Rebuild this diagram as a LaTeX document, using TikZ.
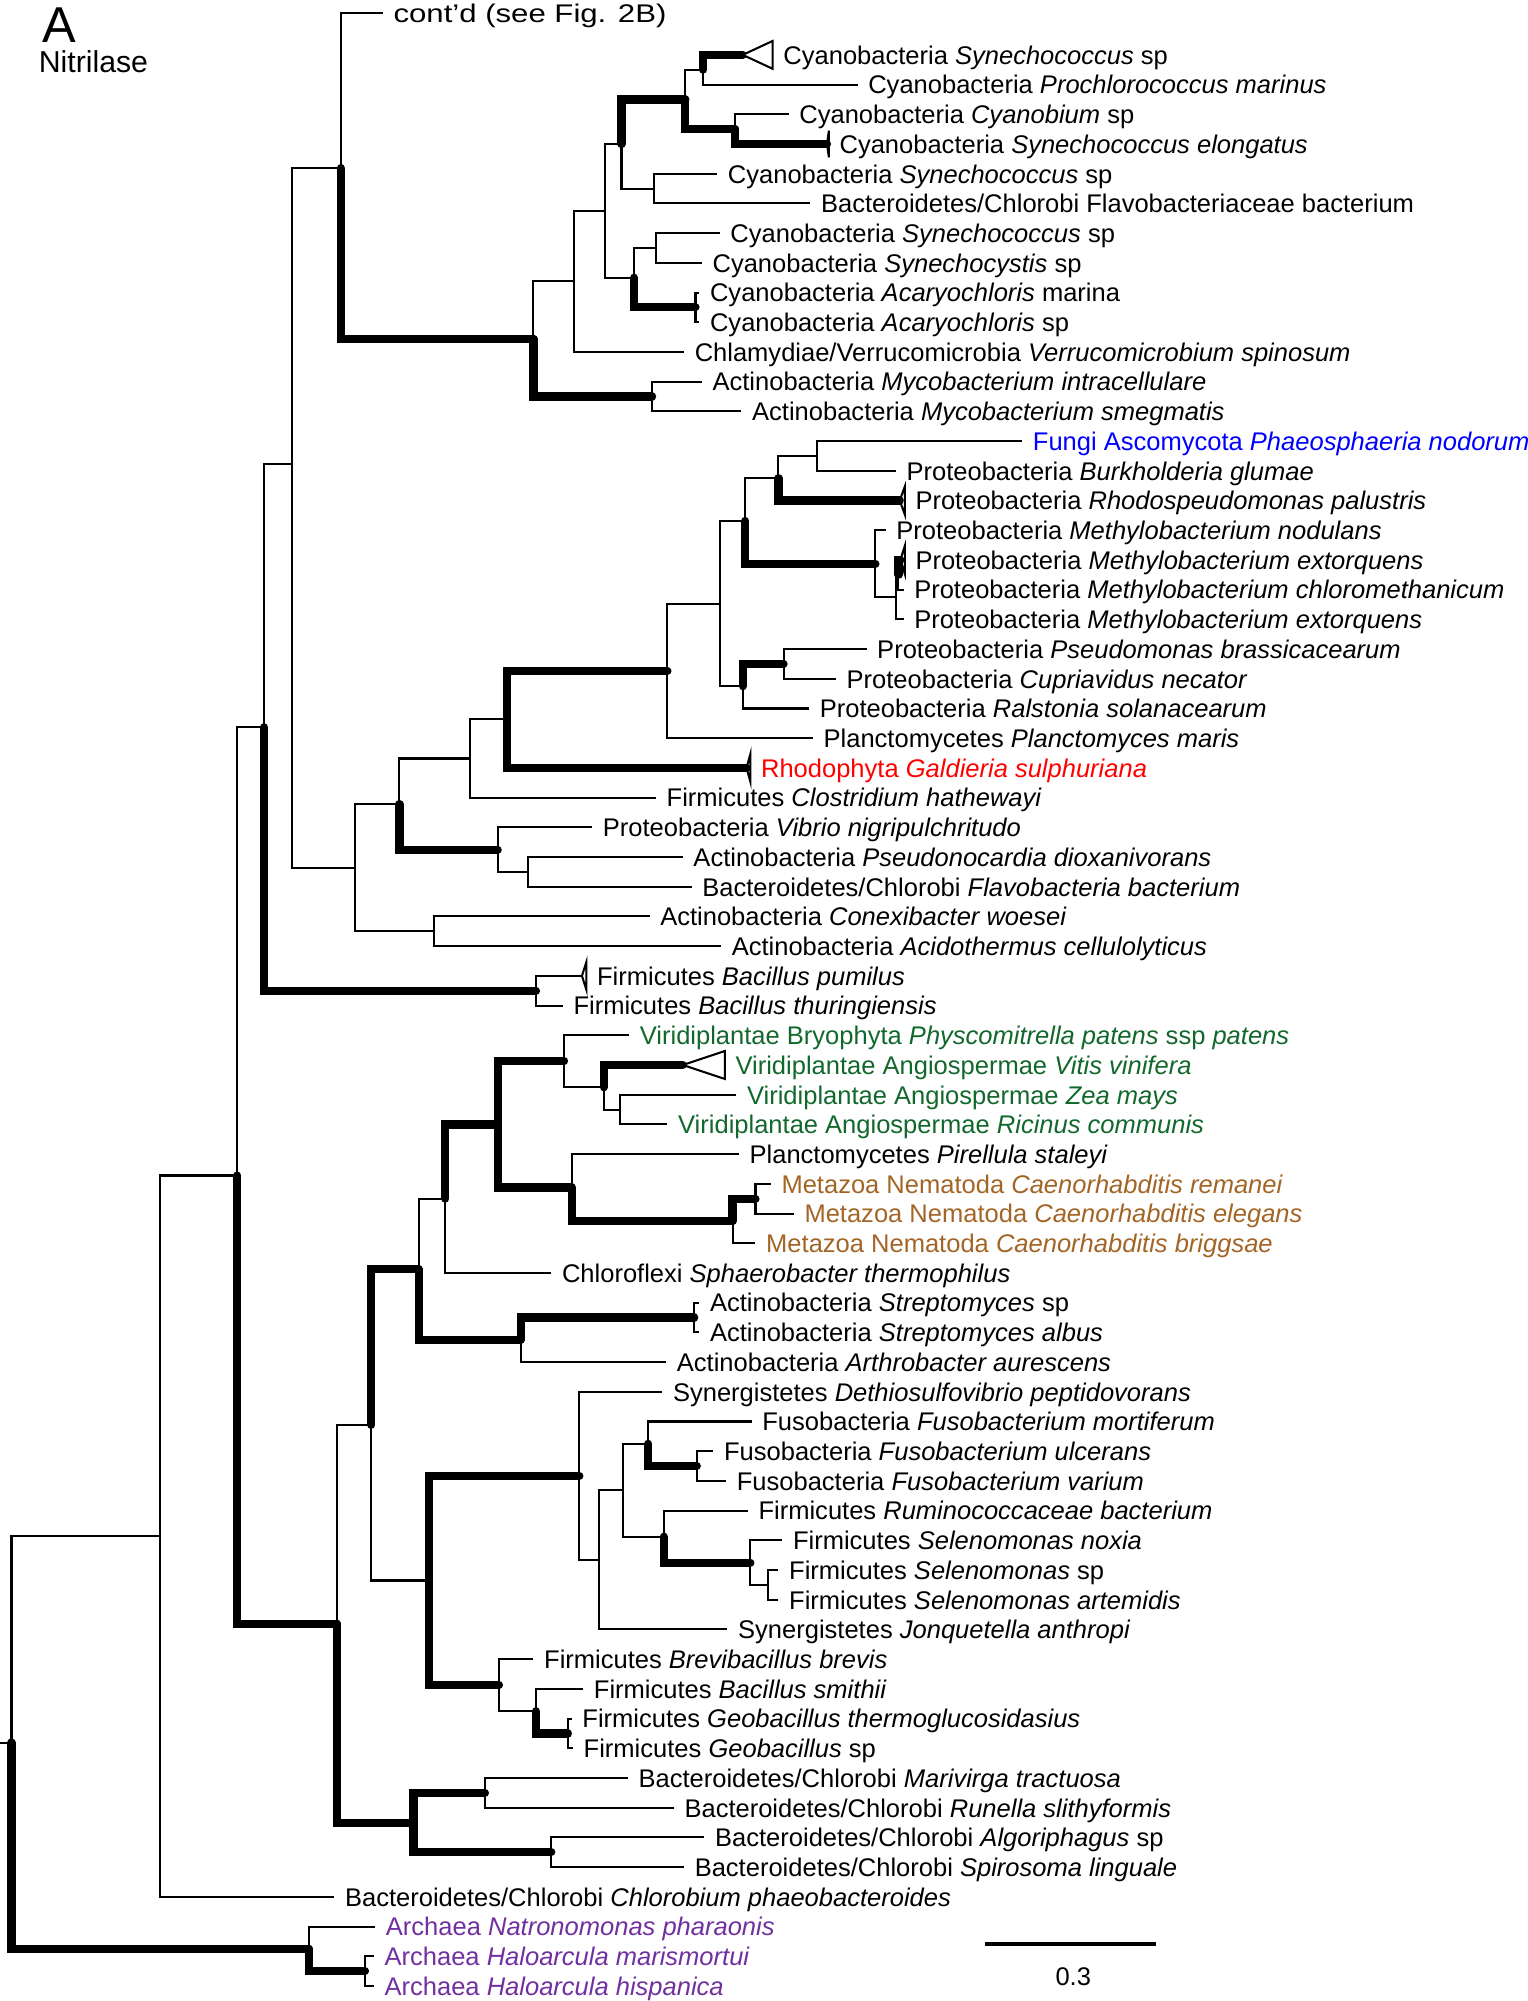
\documentclass[tikz,border=0pt]{standalone}
\usepackage{fontspec}
\setmainfont{Liberation Sans}
\usepackage{graphicx}
\usepackage{tikz}
\definecolor{fungi}{RGB}{0,0,255}
\definecolor{rhodo}{RGB}{255,0,0}
\definecolor{plant}{RGB}{18,104,44}
\definecolor{nema}{RGB}{163,101,37}
\definecolor{archaea}{RGB}{112,48,160}

\begin{document}
\begin{tikzpicture}[x=0.5pt,y=-11.64pt,font=\fontsize{10}{12}\selectfont,
	br/.style={line width=0.8pt},
	bt/.style={line width=3.2pt,line cap=round},
	lf/.style={anchor=west,inner xsep=4pt,inner ysep=0pt,text height=7.3pt,text depth=0pt},
	tri/.style={line width=0.8pt}]
		\useasboundingbox (0,-1.847) rectangle (1197,65.506);

		\node[anchor=base west,inner sep=0pt,font=\fontsize{19.75}{20}\selectfont] (panel) at (32.7,-0.408) {A};
		\node[anchor=base west,inner sep=0pt,font=\fontsize{11.85}{12}\selectfont] (title) at (30,0.601) {Nitrilase};

		\node[lf] (contd) at (300,-1.418) {\scalebox{1.22}[1]{cont’d (see Fig. 2B)}};
		\node[lf] (k0) at (605.5,0) {Cyanobacteria \textit{Synechococcus} sp};
		\node[lf] (k1) at (672,1) {Cyanobacteria \textit{Prochlorococcus marinus}};
		\node[lf] (k2) at (618,2) {Cyanobacteria \textit{Cyanobium} sp};
		\node[lf] (k3) at (649.5,3) {Cyanobacteria \textit{Synechococcus elongatus}};
		\node[lf] (k4) at (562,4) {Cyanobacteria \textit{Synechococcus} sp};
		\node[lf] (k5) at (635,5) {Bacteroidetes/Chlorobi Flavobacteriaceae bacterium};
		\node[lf] (k6) at (564,6) {Cyanobacteria \textit{Synechococcus} sp};
		\node[lf] (k7) at (550,7) {Cyanobacteria \textit{Synechocystis} sp};
		\node[lf] (k8) at (548,8) {Cyanobacteria \textit{Acaryochloris} marina};
		\node[lf] (k9) at (548,9) {Cyanobacteria \textit{Acaryochloris} sp};
		\node[lf] (k10) at (536,10) {Chlamydiae/Verrucomicrobia \textit{Verrucomicrobium spinosum}};
		\node[lf] (k11) at (550,11) {Actinobacteria \textit{Mycobacterium intracellulare}};
		\node[lf] (k12) at (581,12) {Actinobacteria \textit{Mycobacterium smegmatis}};
		\node[lf,text=fungi] (k13) at (801,13) {Fungi Ascomycota \textit{Phaeosphaeria nodorum}};
		\node[lf] (k14) at (702,14) {Proteobacteria \textit{Burkholderia glumae}};
		\node[lf] (k15) at (709,15) {Proteobacteria \textit{Rhodospeudomonas palustris}};
		\node[lf] (k16) at (694,16) {Proteobacteria \textit{Methylobacterium nodulans}};
		\node[lf] (k17) at (709,17) {Proteobacteria \textit{Methylobacterium extorquens}};
		\node[lf] (k18) at (708,18) {Proteobacteria \textit{Methylobacterium chloromethanicum}};
		\node[lf] (k19) at (708,19) {Proteobacteria \textit{Methylobacterium extorquens}};
		\node[lf] (k20) at (679,20) {Proteobacteria \textit{Pseudomonas brassicacearum}};
		\node[lf] (k21) at (655,21) {Proteobacteria \textit{Cupriavidus necator}};
		\node[lf] (k22) at (634,22) {Proteobacteria \textit{Ralstonia solanacearum}};
		\node[lf] (k23) at (637,23) {Planctomycetes \textit{Planctomyces maris}};
		\node[lf,text=rhodo] (k24) at (588,24) {Rhodophyta \textit{Galdieria sulphuriana}};
		\node[lf] (k25) at (514,25) {Firmicutes \textit{Clostridium hathewayi}};
		\node[lf] (k26) at (464,26) {Proteobacteria \textit{Vibrio nigripulchritudo}};
		\node[lf] (k27) at (535,27) {Actinobacteria \textit{Pseudonocardia dioxanivorans}};
		\node[lf] (k28) at (542,28) {Bacteroidetes/Chlorobi \textit{Flavobacteria bacterium}};
		\node[lf] (k29) at (509,29) {Actinobacteria \textit{Conexibacter woesei}};
		\node[lf] (k30) at (565,30) {Actinobacteria \textit{Acidothermus cellulolyticus}};
		\node[lf] (k31) at (459.5,31) {Firmicutes \textit{Bacillus pumilus}};
		\node[lf] (k32) at (441,32) {Firmicutes \textit{Bacillus thuringiensis}};
		\node[lf,text=plant] (k33) at (493,33) {Viridiplantae Bryophyta \textit{Physcomitrella patens} ssp \textit{patens}};
		\node[lf,text=plant] (k34) at (568,34) {Viridiplantae Angiospermae \textit{Vitis vinifera}};
		\node[lf,text=plant] (k35) at (577,35) {Viridiplantae Angiospermae \textit{Zea mays}};
		\node[lf,text=plant] (k36) at (523,36) {Viridiplantae Angiospermae \textit{Ricinus communis}};
		\node[lf] (k37) at (579,37) {Planctomycetes \textit{Pirellula staleyi}};
		\node[lf,text=nema] (k38) at (604,38) {Metazoa Nematoda \textit{Caenorhabditis remanei}};
		\node[lf,text=nema] (k39) at (622,39) {Metazoa Nematoda \textit{Caenorhabditis elegans}};
		\node[lf,text=nema] (k40) at (592,40) {Metazoa Nematoda \textit{Caenorhabditis briggsae}};
		\node[lf] (k41) at (432,41) {Chloroflexi \textit{Sphaerobacter thermophilus}};
		\node[lf] (k42) at (548,42) {Actinobacteria \textit{Streptomyces} sp};
		\node[lf] (k43) at (548,43) {Actinobacteria \textit{Streptomyces albus}};
		\node[lf] (k44) at (522,44) {Actinobacteria \textit{Arthrobacter aurescens}};
		\node[lf] (k45) at (519,45) {Synergistetes \textit{Dethiosulfovibrio peptidovorans}};
		\node[lf] (k46) at (589,46) {Fusobacteria \textit{Fusobacterium mortiferum}};
		\node[lf] (k47) at (559,47) {Fusobacteria \textit{Fusobacterium ulcerans}};
		\node[lf] (k48) at (569,48) {Fusobacteria \textit{Fusobacterium varium}};
		\node[lf] (k49) at (586,49) {Firmicutes \textit{Ruminococcaceae bacterium}};
		\node[lf] (k50) at (613,50) {Firmicutes \textit{Selenomonas noxia}};
		\node[lf] (k51) at (610,51) {Firmicutes \textit{Selenomonas} sp};
		\node[lf] (k52) at (610,52) {Firmicutes \textit{Selenomonas artemidis}};
		\node[lf] (k53) at (570,53) {Synergistetes \textit{Jonquetella anthropi}};
		\node[lf] (k54) at (418,54) {Firmicutes \textit{Brevibacillus brevis}};
		\node[lf] (k55) at (457,55) {Firmicutes \textit{Bacillus smithii}};
		\node[lf] (k56) at (448,56) {Firmicutes \textit{Geobacillus thermoglucosidasius}};
		\node[lf] (k57) at (449,57) {Firmicutes \textit{Geobacillus} sp};
		\node[lf] (k58) at (492,58) {Bacteroidetes/Chlorobi \textit{Marivirga tractuosa}};
		\node[lf] (k59) at (528,59) {Bacteroidetes/Chlorobi \textit{Runella slithyformis}};
		\node[lf] (k60) at (552,60) {Bacteroidetes/Chlorobi \textit{Algoriphagus} sp};
		\node[lf] (k61) at (536,61) {Bacteroidetes/Chlorobi \textit{Spirosoma linguale}};
		\node[lf] (k62) at (262,62) {Bacteroidetes/Chlorobi \textit{Chlorobium phaeobacteroides}};
		\node[lf,text=archaea] (k63) at (294,63) {Archaea \textit{Natronomonas pharaonis}};
		\node[lf,text=archaea] (k64) at (293,64) {Archaea \textit{Haloarcula marismortui}};
		\node[lf,text=archaea] (k65) at (293,65) {Archaea \textit{Haloarcula hispanica}};

		\coordinate (tip0) at (582,0);
		\coordinate (tip3) at (648,3);
		\coordinate (tip15) at (705,15);
		\coordinate (tip17) at (705.5,17);
		\coordinate (tip24) at (585,24);
		\coordinate (tip31) at (456,31);
		\coordinate (tip34) at (535,34);

		\coordinate (nSyn) at (551,0.5);
		\coordinate (nCyb) at (576,2.5);
		\coordinate (c3) at (537,1.5);
		\coordinate (c4) at (512.5,4.5);
		\coordinate (c5) at (487,3);
		\coordinate (c6) at (514,6.5);
		\coordinate (c7) at (545,8.5);
		\coordinate (c8) at (497,7.5);
		\coordinate (c9) at (474,5.25);
		\coordinate (c10) at (450,7.625);
		\coordinate (c12) at (511,11.5);
		\coordinate (c11) at (418,9.5625);
		\coordinate (Na) at (267,3.81);
		\coordinate (p1) at (640,13.5);
		\coordinate (p2) at (610,14.25);
		\coordinate (p3) at (704,17.5);
		\coordinate (p4) at (702,18.25);
		\coordinate (p5) at (686,17.125);
		\coordinate (p6) at (584,15.6875);
		\coordinate (p7) at (614,20.5);
		\coordinate (p8) at (582,21.25);
		\coordinate (p9) at (564,18.469);
		\coordinate (p10) at (523,20.734);
		\coordinate (p11) at (397,22.367);
		\coordinate (p12) at (368,23.684);
		\coordinate (p14) at (414,27.5);
		\coordinate (p13) at (390,26.75);
		\coordinate (p15) at (313,25.217);
		\coordinate (p16) at (340,29.5);
		\coordinate (p17) at (278,27.358);
		\coordinate (P) at (229,13.767);
		\coordinate (b1) at (420,31.5);
		\coordinate (Q) at (207,22.633);
		\coordinate (v1) at (486,35.5);
		\coordinate (v2) at (473,34.75);
		\coordinate (v3) at (442,33.875);
		\coordinate (m1) at (592,38.5);
		\coordinate (m2) at (574,39.25);
		\coordinate (m3) at (448,38.125);
		\coordinate (v4) at (390,36);
		\coordinate (v5) at (349,38.5);
		\coordinate (s1) at (544,42.5);
		\coordinate (s2) at (408,43.25);
		\coordinate (v6) at (328,40.875);
		\coordinate (f1) at (546,47.5);
		\coordinate (f2) at (508,46.75);
		\coordinate (f3) at (602,51.5);
		\coordinate (f4) at (588,50.75);
		\coordinate (f5) at (520,49.875);
		\coordinate (f6) at (488,48.3125);
		\coordinate (f7) at (469,50.656);
		\coordinate (f8) at (454,47.828);
		\coordinate (g1) at (445,56.5);
		\coordinate (g2) at (420,55.75);
		\coordinate (g3) at (391,54.875);
		\coordinate (f9) at (336,51.352);
		\coordinate (v7) at (291,46.113);
		\coordinate (bac1) at (380,58.5);
		\coordinate (bac2) at (432,60.5);
		\coordinate (bac3) at (324,59.5);
		\coordinate (v8) at (264,52.807);
		\coordinate (S) at (186,37.72);
		\coordinate (T) at (125,49.86);
		\coordinate (a1) at (286,64.5);
		\coordinate (a2) at (242,63.75);
		\coordinate (root) at (9,56.805);
		\coordinate (stub) at (0,56.805);

		\draw[br] (Na) |- (contd.west);
		\draw[bt] (Na) |- (c11);
		\draw[br] (c11) |- (c10);
		\draw[bt] (c11) |- (c12);
		\draw[br] (c10) |- (c9);
		\draw[br] (c10) |- (k10.west);
		\draw[br] (c9) |- (c5);
		\draw[br] (c9) |- (c8);
		\draw[bt] (c5) |- (c3);
		\draw[br] (c5) |- (c4);
		\draw[br] (c3) |- (nSyn);
		\draw[bt] (c3) |- (nCyb);
		\draw[bt] (nSyn) |- (tip0);
		\draw[br] (nSyn) |- (k1.west);
		\draw[br] (nCyb) |- (k2.west);
		\draw[bt] (nCyb) |- (tip3);
		\draw[br] (c4) |- (k4.west);
		\draw[br] (c4) |- (k5.west);
		\draw[br] (c8) |- (c6);
		\draw[bt] (c8) |- (c7);
		\draw[br] (c6) |- (k6.west);
		\draw[br] (c6) |- (k7.west);
		\draw[br] (c7) |- (k8.west);
		\draw[br] (c7) |- (k9.west);
		\draw[br] (c12) |- (k11.west);
		\draw[br] (c12) |- (k12.west);

		\draw[br] (P) |- (Na);
		\draw[br] (P) |- (p17);
		\draw[br] (p17) |- (p15);
		\draw[br] (p17) |- (p16);
		\draw[br] (p15) |- (p12);
		\draw[bt] (p15) |- (p13);
		\draw[br] (p12) |- (p11);
		\draw[br] (p12) |- (k25.west);
		\draw[bt] (p11) |- (p10);
		\draw[bt] (p11) |- (tip24);
		\draw[br] (p10) |- (p9);
		\draw[br] (p10) |- (k23.west);
		\draw[br] (p9) |- (p6);
		\draw[br] (p9) |- (p8);
		\draw[br] (p6) |- (p2);
		\draw[bt] (p6) |- (p5);
		\draw[br] (p2) |- (p1);
		\draw[bt] (p2) |- (tip15);
		\draw[br] (p1) |- (k13.west);
		\draw[br] (p1) |- (k14.west);
		\draw[br] (p5) |- (k16.west);
		\draw[br] (p5) |- (p4);
		\draw[br] (p4) |- (p3);
		\draw[br] (p4) |- (k19.west);
		\draw[bt] (p3) |- (tip17);
		\draw[br] (p3) |- (k18.west);
		\draw[bt] (p8) |- (p7);
		\draw[br] (p8) |- (k22.west);
		\draw[br] (p7) |- (k20.west);
		\draw[br] (p7) |- (k21.west);
		\draw[br] (p13) |- (k26.west);
		\draw[br] (p13) |- (p14);
		\draw[br] (p14) |- (k27.west);
		\draw[br] (p14) |- (k28.west);
		\draw[br] (p16) |- (k29.west);
		\draw[br] (p16) |- (k30.west);

		\draw[br] (Q) |- (P);
		\draw[bt] (Q) |- (b1);
		\draw[br] (b1) |- (tip31);
		\draw[br] (b1) |- (k32.west);

		\draw[br] (S) |- (Q);
		\draw[bt] (S) |- (v8);
		\draw[br] (v8) |- (v7);
		\draw[bt] (v8) |- (bac3);
		\draw[bt] (v7) |- (v6);
		\draw[br] (v7) |- (f9);
		\draw[br] (v6) |- (v5);
		\draw[bt] (v6) |- (s2);
		\draw[bt] (v5) |- (v4);
		\draw[br] (v5) |- (k41.west);
		\draw[bt] (v4) |- (v3);
		\draw[bt] (v4) |- (m3);
		\draw[br] (v3) |- (k33.west);
		\draw[br] (v3) |- (v2);
		\draw[bt] (v2) |- (tip34);
		\draw[br] (v2) |- (v1);
		\draw[br] (v1) |- (k35.west);
		\draw[br] (v1) |- (k36.west);
		\draw[br] (m3) |- (k37.west);
		\draw[bt] (m3) |- (m2);
		\draw[bt] (m2) |- (m1);
		\draw[br] (m2) |- (k40.west);
		\draw[br] (m1) |- (k38.west);
		\draw[br] (m1) |- (k39.west);
		\draw[bt] (s2) |- (s1);
		\draw[br] (s2) |- (k44.west);
		\draw[br] (s1) |- (k42.west);
		\draw[br] (s1) |- (k43.west);

		\draw[bt] (f9) |- (f8);
		\draw[bt] (f9) |- (g3);
		\draw[br] (f8) |- (k45.west);
		\draw[br] (f8) |- (f7);
		\draw[br] (f7) |- (f6);
		\draw[br] (f7) |- (k53.west);
		\draw[br] (f6) |- (f2);
		\draw[br] (f6) |- (f5);
		\draw[br] (f2) |- (k46.west);
		\draw[bt] (f2) |- (f1);
		\draw[br] (f1) |- (k47.west);
		\draw[br] (f1) |- (k48.west);
		\draw[br] (f5) |- (k49.west);
		\draw[bt] (f5) |- (f4);
		\draw[br] (f4) |- (k50.west);
		\draw[br] (f4) |- (f3);
		\draw[br] (f3) |- (k51.west);
		\draw[br] (f3) |- (k52.west);
		\draw[br] (g3) |- (k54.west);
		\draw[br] (g3) |- (g2);
		\draw[br] (g2) |- (k55.west);
		\draw[bt] (g2) |- (g1);
		\draw[br] (g1) |- (k56.west);
		\draw[br] (g1) |- (k57.west);

		\draw[bt] (bac3) |- (bac1);
		\draw[bt] (bac3) |- (bac2);
		\draw[br] (bac1) |- (k58.west);
		\draw[br] (bac1) |- (k59.west);
		\draw[br] (bac2) |- (k60.west);
		\draw[br] (bac2) |- (k61.west);

		\draw[br] (T) |- (S);
		\draw[br] (T) |- (k62.west);
		\draw[br] (root) |- (T);
		\draw[bt] (root) |- (a2);
		\draw[br] (stub) -- (root);
		\draw[br] (a2) |- (k63.west);
		\draw[bt] (a2) |- (a1);
		\draw[br] (a1) |- (k64.west);
		\draw[br] (a1) |- (k65.west);

		\draw[tri,fill=white] (tip0) -- (605.5,-0.47) -- (605.5,0.47) -- cycle;
		\draw[tri] (tip3) -- (649.5,2.55) -- (649.5,3.45) -- cycle;
		\draw[tri] (tip15) -- (709,14.53) -- (709,15.47) -- cycle;
		\draw[tri] (tip17) -- (709,16.53) -- (709,17.47) -- cycle;
		\draw[tri] (tip24) -- (588,23.53) -- (588,24.47) -- cycle;
		\draw[tri] (tip31) -- (459.5,30.53) -- (459.5,31.47) -- cycle;
		\draw[tri,fill=white] (tip34) -- (568,33.53) -- (568,34.47) -- cycle;

		\coordinate (sbl) at (772,63.59);
		\coordinate (sbr) at (906,63.59);
		\draw[line width=1.4pt] (sbl) -- (sbr);
		\node[anchor=base,inner sep=0pt] (sbtext) at (841,64.99) {0.3};

	\end{tikzpicture}
\end{document}
